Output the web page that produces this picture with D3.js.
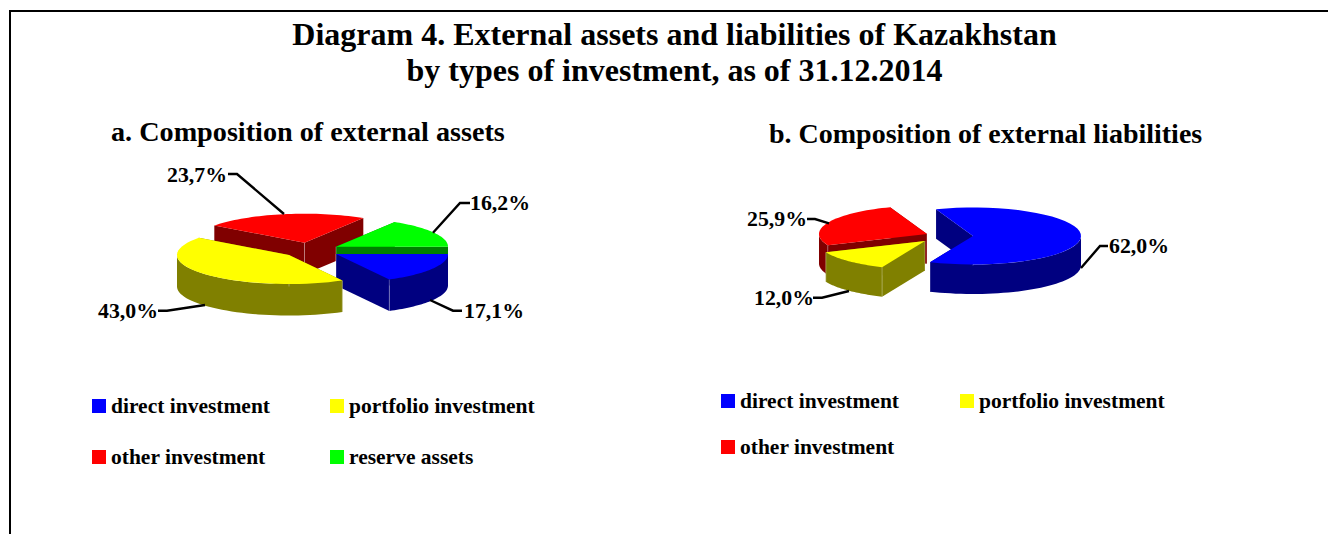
<!DOCTYPE html>
<html lang="en">
<head>
  <meta charset="UTF-8">
  <title>Diagram 4</title>
  <script src="https://d3js.org/d3.v7.min.js"></script>
  <style>
    html, body { margin: 0; padding: 0; background: #fff; overflow: hidden; }
    svg { display: block; }
    text { font-family: "Liberation Serif", serif; font-weight: bold; fill: #000; }
    .title { font-size: 32px; text-anchor: middle; }
    .subtitle { font-size: 28px; }
    .pct { font-size: 21.8px; }
    .legend { font-size: 21.5px; }
    .leader { fill: none; stroke: #000; stroke-width: 2.4; }
    .seam { stroke: #fff; stroke-opacity: 0.3; stroke-width: 1; }
  </style>
</head>
<body>
  <svg id="chart" width="1328" height="534"></svg>
  <script>
    // data
    const assetTypes = ["direct investment", "portfolio investment", "other investment", "reserve assets"];
    const assetValues = [17.1, 43.0, 23.7, 16.2];
    const liabilityTypes = ["direct investment", "portfolio investment", "other investment"];
    const liabilityValues = [62.0, 12.0, 25.9];

    const titleLines = ["Diagram 4. External assets and liabilities of Kazakhstan", "by types of investment, as of 31.12.2014"];

    const topColor = { "direct investment": "#0000ff", "portfolio investment": "#ffff00", "other investment": "#ff0000", "reserve assets": "#00ff00" };
    const sideColor = { "direct investment": "#000080", "portfolio investment": "#808000", "other investment": "#800000", "reserve assets": "#008000" };

    const svg = d3.select("#chart");
    const fmt = v => v.toFixed(1).replace(".", ",") + "%";

    // frame, open on the bottom
    svg.append("path").attr("fill", "none").attr("stroke", "#000").attr("stroke-width", 2)
      .attr("d", "M10,534V11H1328");

    svg.selectAll(".title").data(titleLines).enter().append("text")
      .attr("class", "title")
      .attr("x", 674.5)
      .attr("y", (d, i) => 45 + i * 36)
      .text(d => d);

    // one exploded 3d pie; each slice has its own apex because of the explosion
    function pie3d(cfg) {
      const g = svg.append("g");
      const slices = d3.pie().sort(null)
        .startAngle(cfg.start)
        .endAngle(cfg.start + 2 * Math.PI)
        .value(d => d.value)(cfg.types.map((t, i) => ({ type: t, value: cfg.values[i] })));

      const px = (s, a) => cfg.apex[s.data.type][0] + cfg.rx * Math.sin(a);
      const py = (s, a) => cfg.apex[s.data.type][1] - cfg.ry * Math.cos(a);
      const arcSteps = (a0, a1) => d3.range(0, 41).map(k => a0 + (a1 - a0) * k / 40);

      cfg.order.forEach(type => {
        const s = slices.find(d => d.data.type === type);
        const [ax, ay] = cfg.apex[type];
        const layer = g.append("g");

        // cut faces, back ones get covered by the rim and the top
        [s.startAngle, s.endAngle].forEach(a => {
          layer.append("path").attr("fill", sideColor[type])
            .attr("d", d3.line()([[ax, ay], [px(s, a), py(s, a)], [px(s, a), py(s, a) + cfg.depth], [ax, ay + cfg.depth]]) + "Z");
        });

        // rim, only the part that faces the viewer (angles can run past a full turn)
        [0, 2 * Math.PI].forEach(turn => {
          const r0 = Math.max(s.startAngle, Math.PI / 2 + turn);
          const r1 = Math.min(s.endAngle, 3 * Math.PI / 2 + turn);
          if (r1 <= r0) return;
          const steps = arcSteps(r0, r1);
          const upper = steps.map(a => [px(s, a), py(s, a)]);
          const lower = steps.slice().reverse().map(a => [px(s, a), py(s, a) + cfg.depth]);
          layer.append("path").attr("fill", sideColor[type])
            .attr("d", d3.line()(upper.concat(lower)) + "Z");
        });

        // faint light seams where the faces meet, front half only
        const front = [s.startAngle, s.endAngle].filter(a => Math.cos(a) < -0.01);
        [[ax, ay]].concat(front.map(a => [px(s, a), py(s, a)])).forEach(p => {
          layer.append("line").attr("class", "seam")
            .attr("x1", p[0]).attr("y1", p[1])
            .attr("x2", p[0]).attr("y2", p[1] + cfg.depth);
        });

        // top
        const top = arcSteps(s.startAngle, s.endAngle).map(a => [px(s, a), py(s, a)]);
        layer.append("path").attr("fill", topColor[type])
          .attr("d", d3.line()([[ax, ay]].concat(top)) + "Z");
      });

      // leaders and percent labels
      slices.forEach(s => {
        const lab = cfg.labels[s.data.type];
        g.append("polyline").attr("class", "leader").attr("points", lab.line.join(" "));
        g.append("text").attr("class", "pct").attr("x", lab.x).attr("y", lab.y).text(fmt(s.data.value));
      });
    }

    function legend(types, xs, ys) {
      types.forEach((t, i) => {
        const x = xs[i % 2], y = ys[Math.floor(i / 2)];
        svg.append("rect").attr("x", x).attr("y", y).attr("width", 14).attr("height", 14).attr("fill", topColor[t]);
        svg.append("text").attr("class", "legend").attr("x", x + 19).attr("y", y + 14).text(t);
      });
    }

    svg.append("text").attr("class", "subtitle").attr("x", 111).attr("y", 141).attr("style", "font-size:28.2px").text("a. Composition of external assets");
    svg.append("text").attr("class", "subtitle").attr("x", 769).attr("y", 143).text("b. Composition of external liabilities");

    pie3d({
      types: assetTypes, values: assetValues,
      start: Math.PI / 2, rx: 112, ry: 29, depth: 31.5,
      apex: {
        "direct investment": [336, 254],
        "portfolio investment": [289, 255],
        "other investment": [304.5, 242.7],
        "reserve assets": [336, 246.7]
      },
      order: ["other investment", "reserve assets", "direct investment", "portfolio investment"],
      labels: {
        "direct investment": { x: 464, y: 318, line: [[430, 300], [453, 310.7], [462, 310.7]] },
        "portfolio investment": { x: 98, y: 318, line: [[205, 305], [167, 310.7], [158, 310.7]] },
        "other investment": { x: 167, y: 182, line: [[284, 214], [237, 174], [228, 174]] },
        "reserve assets": { x: 470, y: 210, line: [[433, 232.7], [460, 203], [470, 203]] }
      }
    });

    pie3d({
      types: liabilityTypes, values: liabilityValues,
      start: 340 * Math.PI / 180, rx: 108, ry: 28.5, depth: 29.5,
      apex: {
        "direct investment": [973, 236],
        "portfolio investment": [925, 241],
        "other investment": [927, 234]
      },
      order: ["other investment", "portfolio investment", "direct investment"],
      labels: {
        "direct investment": { x: 1109, y: 253, line: [[1081, 268], [1100, 246], [1108, 246]] },
        "portfolio investment": { x: 754, y: 305, line: [[849, 291], [822, 297.7], [813, 297.7]] },
        "other investment": { x: 747, y: 226, line: [[829, 223.3], [815, 219], [807, 219]] }
      }
    });

    legend(assetTypes, [92, 330], [399, 450]);
    legend(liabilityTypes, [721, 960], [394, 440]);
  </script>
</body>
</html>
